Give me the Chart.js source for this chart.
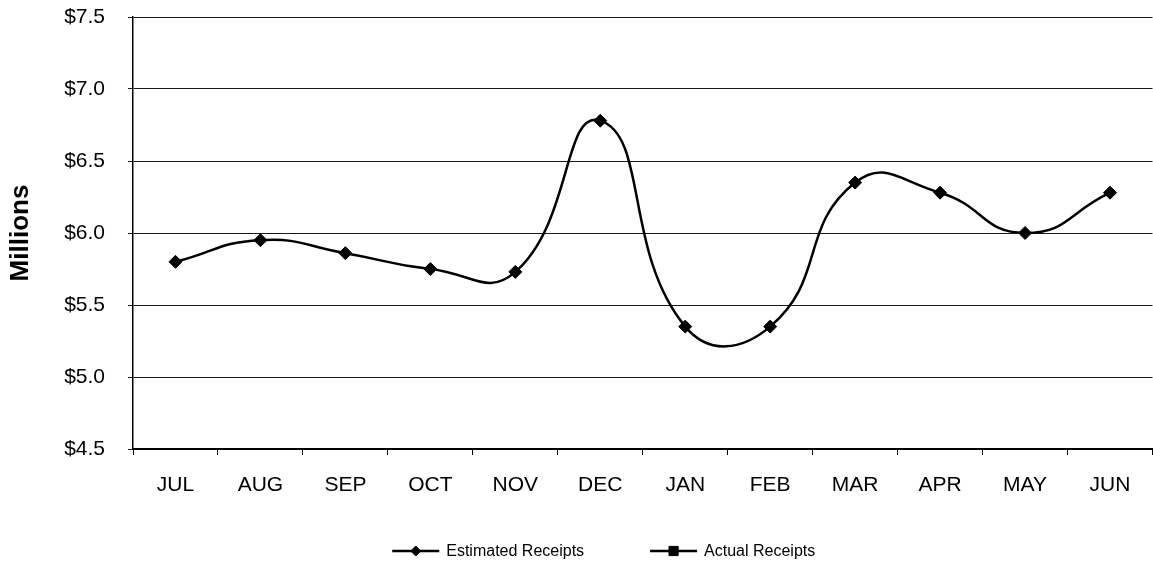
<!DOCTYPE html>
<html>
<head>
<meta charset="utf-8">
<script src="https://cdn.jsdelivr.net/npm/chart.js@4/dist/chart.umd.min.js"></script>
<style>
html,body{margin:0;padding:0;background:#fff;overflow:hidden;}
canvas{display:block;}
</style>
</head>
<body>
<canvas id="c" width="1160" height="562"></canvas>
<script>
// ---- data ----
const months = ['JUL','AUG','SEP','OCT','NOV','DEC','JAN','FEB','MAR','APR','MAY','JUN'];
const estimatedReceipts = [5.80, 5.95, 5.86, 5.75, 5.73, 6.78, 5.35, 5.35, 6.35, 6.28, 6.00, 6.28];
const actualReceipts = []; // no actual values plotted yet
const seriesNames = ['Estimated Receipts', 'Actual Receipts'];
const yMin = 4.5, yMax = 7.5, yStep = 0.5;
const yTitle = 'Millions';

const FONT = '"Liberation Sans", Arial, Helvetica, sans-serif';

const lineLegend = {
  id: 'lineLegend',
  afterDraw(chart) {
    const ctx = chart.ctx;
    ctx.save();
    ctx.font = '16px ' + FONT;
    const lineLen = 47, gapText = 7, gapItem = 66;
    const items = chart.data.datasets.map(ds => ({
      text: ds.label, style: ds.pointStyle, w: ctx.measureText(ds.label).width
    }));
    const total = items.reduce((s, it) => s + lineLen + gapText + it.w, 0) + gapItem * (items.length - 1);
    const ca = chart.chartArea;
    let x = (ca.left + ca.right) / 2 - 39 - total / 2;
    const y = 551;
    items.forEach(it => {
      ctx.strokeStyle = '#000';
      ctx.fillStyle = '#000';
      ctx.lineWidth = 2.5;
      ctx.beginPath();
      ctx.moveTo(x, y);
      ctx.lineTo(x + lineLen, y);
      ctx.stroke();
      ctx.lineWidth = 1;
      Chart.helpers.drawPoint(ctx, {
        pointStyle: it.style,
        radius: it.style === 'rectRot' ? 5 : 6.5,
        rotation: 0,
        borderWidth: 1
      }, x + lineLen / 2, y);
      ctx.fillStyle = '#000';
      ctx.textAlign = 'left';
      ctx.textBaseline = 'middle';
      ctx.fillText(it.text, x + lineLen + gapText, y + 1);
      x += lineLen + gapText + it.w + gapItem;
    });
    ctx.restore();
  }
};

new Chart(document.getElementById('c'), {
  type: 'line',
  data: {
    labels: months,
    datasets: [
      {
        label: seriesNames[0],
        data: estimatedReceipts,
        borderColor: '#000',
        backgroundColor: '#000',
        borderWidth: 2.5,
        pointStyle: 'rectRot',
        pointRadius: 6.5,
        pointBorderWidth: 1,
        pointBackgroundColor: '#000',
        pointBorderColor: '#000',
        tension: 0.5,
        fill: false
      },
      {
        label: seriesNames[1],
        data: actualReceipts,
        borderColor: '#000',
        backgroundColor: '#000',
        borderWidth: 2.5,
        pointStyle: 'rect',
        pointRadius: 6.5,
        tension: 0.5,
        fill: false
      }
    ]
  },
  plugins: [lineLegend],
  options: {
    responsive: false,
    animation: false,
    layout: { padding: { left: 0, top: 17, right: 1, bottom: 65 } },
    plugins: {
      legend: { display: false },
      tooltip: { enabled: false }
    },
    scales: {
      x: {
        type: 'category',
        offset: true,
        grid: {
          display: true,
          drawOnChartArea: false,
          drawTicks: true,
          tickLength: 6,
          offset: true,
          color: '#000',
          lineWidth: 1
        },
        border: { display: true, color: '#000', width: 2 },
        ticks: {
          color: '#000',
          font: { family: FONT, size: 21 },
          padding: 18,
          maxRotation: 0,
          autoSkip: false
        },
        afterFit: s => { s.height = 48; s.paddingTop = 0; s.paddingBottom = 0; }
      },
      y: {
        min: yMin,
        max: yMax,
        grid: {
          color: '#1a1a1a',
          lineWidth: 1,
          tickLength: 5,
          drawTicks: true
        },
        border: { display: true, color: '#000', width: 1.5 },
        ticks: {
          stepSize: yStep,
          color: '#000',
          font: { family: FONT, size: 21 },
          padding: 23,
          callback: v => '$' + Number(v).toFixed(1)
        },
        title: {
          display: true,
          text: yTitle,
          color: '#000',
          font: { family: FONT, size: 26, weight: 'bold' },
          padding: { top: 5, bottom: 0 }
        },
        afterFit: s => { s.width = 133; s.paddingTop = 0; s.paddingBottom = 0; }
      }
    }
  }
});
</script>
</body>
</html>
